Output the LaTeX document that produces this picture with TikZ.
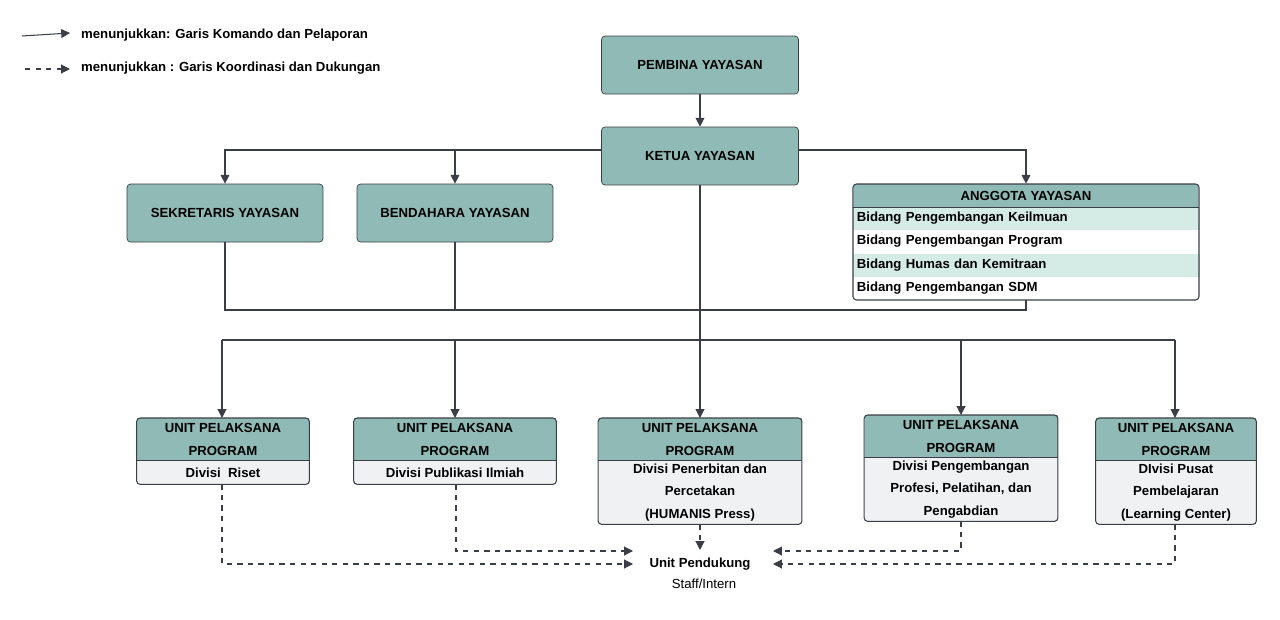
\documentclass[tikz,border=0pt]{standalone}
\usepackage{fontspec}
\setmainfont{Liberation Sans}
\usetikzlibrary{arrows.meta,positioning}
\definecolor{teal}{HTML}{8FBAB5}
\definecolor{stripe}{HTML}{D4EBE6}
\definecolor{bodyfill}{HTML}{F0F1F3}
\definecolor{ink}{HTML}{3A3F47}
\begin{document}
\begin{tikzpicture}[x=0.02cm,y=-0.02cm,font=\fontsize{7.5}{9}\selectfont\bfseries,
    >={Triangle[length=5pt,width=5pt]},
    box/.style={draw=ink,fill=teal,rounded corners=2pt,inner sep=0pt,minimum height=1.16cm},
    head/.style={fill=teal,inner sep=0pt,align=center},
    body/.style={fill=bodyfill,inner sep=0pt,align=center},
    row/.style={inner sep=2pt,anchor=west,minimum width=6.9cm,minimum height=0.46cm,text width=6.8cm},
    cmd/.style={->,draw=ink,line width=0.6pt},
    sub/.style={draw=ink,line width=0.6pt},
    coord/.style={->,draw=ink,line width=0.6pt,dashed}]
  \useasboundingbox (0,0) rectangle (1280,619);
  % legend
  \coordinate (l1a) at (22,36); \coordinate (l1b) at (70,33);
  \draw[cmd] (l1a) -- (l1b);
  \node[anchor=west] (l1) at (75,35) {menunjukkan: Garis Komando dan Pelaporan};
  \coordinate (l2a) at (25,69); \coordinate (l2b) at (70,69);
  \draw[coord] (l2a) -- (l2b);
  \node[anchor=west] (l2) at (75,68) {menunjukkan : Garis Koordinasi dan Dukungan};
  % top level
  \node[box,minimum width=3.94cm] (pembina) at (700,65) {PEMBINA YAYASAN};
  \node[box,minimum width=3.94cm] (ketua) at (700,156) {KETUA YAYASAN};
  \node[box,minimum width=3.92cm] (sekre) at (225,213) {SEKRETARIS YAYASAN};
  \node[box,minimum width=3.92cm] (benda) at (455,213) {BENDAHARA YAYASAN};
  % anggota
  \node[row,fill=stripe] (r1) at (853,218.5) {Bidang Pengembangan Keilmuan};
  \node[row,fill=white] (r2) at (853,241.5) {Bidang Pengembangan Program};
  \node[row,fill=stripe] (r3) at (853,265) {Bidang Humas dan Kemitraan};
  \node[row,fill=white] (r4) at (853,288.5) {Bidang Pengembangan SDM};
  \node[head,minimum width=6.9cm,minimum height=0.46cm] (anggota) at (1026,195.5) {ANGGOTA YAYASAN};
  \draw[ink,line width=0.6pt,rounded corners=2pt] (853,184) rectangle (1199,300);
  \draw[ink,line width=0.5pt] (853,207) -- (1199,207);
  % units
  \foreach \n/\x/\y/\w/\hb/\txt in {
      u1/223/418/172/23/{Divisi\ \ Riset},
      u2/455/418/202/23/{Divisi Publikasi Ilmiah},
      u3/700/418/203/63/{Divisi Penerbitan dan\\[4pt]Percetakan\\[4pt](HUMANIS Press)},
      u4/961/415/193/63/{Divisi Pengembangan\\[4pt]Profesi, Pelatihan, dan\\[4pt]Pengabdian},
      u5/1176/418/160/63/{DIvisi Pusat\\[4pt]Pembelajaran\\[4pt](Learning Center)}} {
    \node[head,anchor=north,minimum width=\w*0.02cm,minimum height=0.84cm] (\n h) at (\x,\y) {UNIT PELAKSANA\\[4pt]PROGRAM};
    \node[body,anchor=north,minimum width=\w*0.02cm,minimum height=\hb*0.02cm] (\n b) at (\n h.south) {\txt};
    \draw[ink,line width=0.6pt,rounded corners=2pt] (\n h.north west) rectangle (\n b.south east);
    \draw[ink,line width=0.5pt] (\n h.south west) -- (\n h.south east);
  }
  % support unit
  \node (pend) at (700,564) {Unit Pendukung};
  \node[font=\fontsize{7.5}{9}\selectfont] (staff) at (704,584) {Staff/Intern};
  % command lines
  \draw[cmd] (pembina) -- (ketua);
  \draw[cmd] (ketua.west |- 0,150) -| (sekre);
  \draw[cmd] (455,150) -- (benda);
  \draw[cmd] (ketua.east |- 0,150) -| (anggota.north);
  \draw[sub] (sekre.south) |- (1026,310) -- (1026,300);
  \draw[sub] (benda.south) -- (455,310);
  \draw[cmd] (ketua) -- (u3h);
  \draw[sub] (222,340) -- (1175,340);
  \foreach \n/\x in {u1h/222,u2h/455,u4h/961,u5h/1175}
    \draw[cmd] (\x,340) -- (\n.north -| \x,0);
  % coordination lines
  \coordinate (pl1) at (633,551); \coordinate (pl2) at (633,564);
  \coordinate (pr1) at (773,551); \coordinate (pr2) at (773,564);
  \draw[coord] (u3b) -- (700,550);
  \draw[coord] (u1b.south -| 222,0) |- (pl2);
  \draw[coord] (u2b.south -| 456,0) |- (pl1);
  \draw[coord] (u4b.south) |- (pr1);
  \draw[coord] (u5b.south -| 1175,0) |- (pr2);
\end{tikzpicture}
\end{document}
